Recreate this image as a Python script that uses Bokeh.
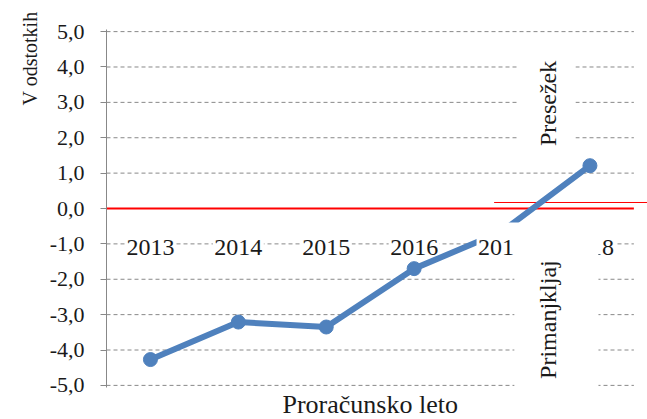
import math
from bokeh.plotting import figure
from bokeh.models import FixedTicker, CustomJSTickFormatter, Range1d, Title
from bokeh.core.properties import value
from bokeh.embed import file_html
from bokeh.resources import INLINE

# ---- data ----
years = [2013, 2014, 2015, 2016, 2017, 2018]
year_labels = ["2013", "2014", "2015", "2016", "2017", "2018"]
balance = [-4.27, -3.21, -3.35, -1.70, -0.65, 1.21]
y_ticks = [-5, -4, -3, -2, -1, 0, 1, 2, 3, 4, 5]
y_title = "V odstotkih"
x_title = "Proračunsko leto"
note_labels = ["Presežek", "Primanjkljaj"]

FONT = "Liberation Serif"
QFONT = "'Liberation Serif'"
BLUE = "#4F81BD"
GRID = "#888888"
X_END = 2018.655

p = figure(width=647, height=419, output_backend="svg", toolbar_location=None,
           x_range=Range1d(2012.5, X_END), y_range=Range1d(-5.06, 5.06),
           min_border_left=106, min_border_right=0, min_border_top=29, min_border_bottom=32)
p.outline_line_color = None
p.grid.visible = False
p.xaxis.visible = False
p.background_fill_color = "white"
p.border_fill_color = "white"

ya = p.yaxis[0]
ya.ticker = FixedTicker(ticks=y_ticks, minor_ticks=[])
ya.formatter = CustomJSTickFormatter(code="return tick.toFixed(1).replace('.', ',');")
ya.axis_line_color = GRID
ya.major_tick_line_color = GRID
ya.major_tick_out = 6
ya.major_tick_in = 0
ya.minor_tick_line_color = None
ya.major_label_standoff = 16
ya.major_label_text_font = FONT
ya.major_label_text_font_size = "22px"
ya.major_label_text_color = "#1a1a1a"

# axis titles
p.add_layout(Title(text=y_title, align="right", text_font=QFONT, text_font_size="20px",
                   text_font_style="normal", text_color="#1a1a1a", offset=-18, standoff=11), "left")
p.add_layout(Title(text=x_title, align="left", text_font=QFONT, text_font_size="26px",
                   text_font_style="normal", text_color="#1a1a1a", offset=176, standoff=0), "below")

# gridlines (dashed) except zero
x_left, x_right = 2012.5, 2018.5
grid_y = [t for t in y_ticks if t != 0]
p.segment(x0=[x_left] * len(grid_y), x1=[x_right] * len(grid_y), y0=grid_y, y1=grid_y,
          line_color=GRID, line_width=1, line_dash="4 3")
# zero line
p.segment(x0=[x_left], x1=[x_right], y0=[0], y1=[0], line_color="#FF0000", line_width=2)
# thin red line (overlay artifact)
p.segment(x0=[2016.91], x1=[X_END], y0=[0.17], y1=[0.17], line_color="#FF0000", line_width=1)

# series
p.line(years, balance, line_color=BLUE, line_width=6)
p.scatter(years, balance, size=14, fill_color=BLUE, line_color=BLUE)

# white backgrounds behind category labels, then the labels along the zero axis
half_w = 0.29
p.quad(left=[y - half_w for y in years], right=[y + half_w for y in years],
       top=[-0.395] * len(years), bottom=[-1.243] * len(years),
       fill_color="white", line_color=None)
p.text(x=years, y=[0] * len(years), text=year_labels, y_offset=39,
       text_align="center", text_baseline="alphabetic",
       text_font=value(FONT), text_font_size="24px", text_color="#1a1a1a")

# white note boxes
p.quad(left=[2017.175, 2017.14], right=[2017.835, 2018.097], top=[4.6, -0.59], bottom=[1.58, -5.3],
       fill_color="white", line_color=None)

p.text(x=[2017.52, 2017.525], y=[2.97, -3.14], text=note_labels, angle=math.pi / 2,
       text_align="center", text_baseline="alphabetic",
       text_font=value(FONT), text_font_size="24px", text_color="#1a1a1a")

open("out.html", "w").write(file_html(p, INLINE))
